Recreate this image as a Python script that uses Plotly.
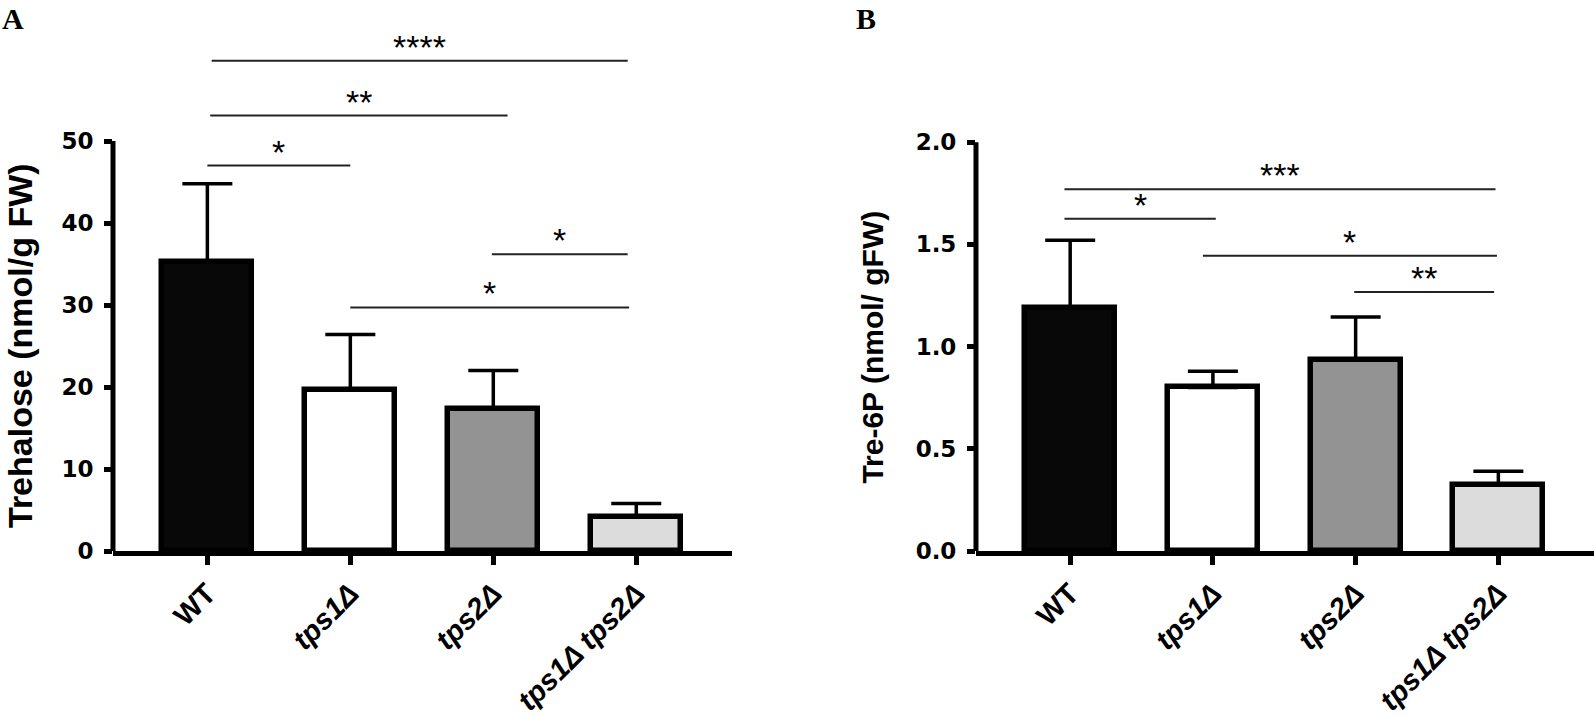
import plotly.graph_objects as go
from plotly.subplots import make_subplots

# genotypes (x categories)
genotypes = ["WT", "<i>tps1Δ</i>", "<i>tps2Δ</i>", "<i>tps1Δ tps2Δ</i>"]
bar_colors = ["#080808", "#ffffff", "#939393", "#dcdcdc"]

# panel A: trehalose
trehalose_mean = [35.3, 19.6, 17.3, 4.2]
trehalose_sem = [9.5, 6.8, 4.7, 1.6]
# significance brackets: (from, to, height, label)
trehalose_sig = [
    (0.03, 2.94, 59.8, "****"),
    (0.02, 2.10, 53.1, "**"),
    (0.00, 1.00, 47.0, "*"),
    (1.99, 2.94, 36.2, "*"),
    (1.00, 2.95, 29.7, "*"),
]

# panel B: trehalose-6-phosphate
t6p_mean = [1.19, 0.80, 0.935, 0.325]
t6p_sem = [0.33, 0.08, 0.21, 0.065]
t6p_sig = [
    (-0.04, 2.98, 1.77, "***"),
    (-0.04, 1.02, 1.625, "*"),
    (0.93, 2.99, 1.445, "*"),
    (1.99, 2.97, 1.267, "**"),
]

xpos = list(range(len(genotypes)))

fig = make_subplots(rows=1, cols=2, horizontal_spacing=0.1645)


def panel(col, means, errs, sig, ymax, ytop, dtick, title, title_size):
    xa = "x" if col == 1 else "x2"
    ya = "y" if col == 1 else "y2"
    fig.add_trace(go.Bar(
        x=xpos, y=means, width=0.63,
        marker=dict(color=bar_colors, line=dict(color="black", width=5.5)),
        error_y=dict(type="data", array=errs, arrayminus=[0] * len(errs),
                     symmetric=False, color="black", thickness=3.5, width=25),
        showlegend=False,
    ), row=1, col=col)
    for x0, x1, yv, lab in sig:
        fig.add_trace(go.Scatter(x=[x0, x1], y=[yv, yv], mode="lines",
                                 line=dict(color="#222", width=2),
                                 showlegend=False, hoverinfo="skip"),
                      row=1, col=col)
        fig.add_annotation(x=(x0 + x1) / 2, y=yv, text=lab, showarrow=False,
                           yanchor="bottom", yshift=-7,
                           font=dict(size=34, color="black", family="Liberation Sans, Arial"),
                           row=1, col=col)
    # y axis line only spans the tick range
    fig.add_shape(type="line", xref=xa + " domain", yref=ya,
                  x0=0, x1=0, y0=0, y1=ymax, line=dict(color="black", width=5))
    fig.add_annotation(xref=xa + " domain", yref=ya, xanchor="center", yanchor="middle",
                       x=0, y=ymax / 2, xshift=-93 if col == 1 else -103,
                       text=title, textangle=-90, showarrow=False,
                       font=dict(size=title_size, color="black",
                                 family="Liberation Sans, Arial", weight="bold"))
    fig.update_yaxes(range=[0, ytop], tickvals=[i * dtick for i in range(int(round(ymax / dtick)) + 1)],
                     tickformat=".1f" if dtick < 1 else "d",
                     showline=False, showgrid=False, zeroline=False,
                     ticks="outside", ticklen=8, tickwidth=5, tickcolor="black",
                     ticklabelstandoff=6,
                     tickfont=dict(family="DejaVu Sans", size=23, color="black", weight="bold"),
                     row=1, col=col)
    fig.update_xaxes(range=[-0.66, 3.67], tickvals=xpos, ticktext=genotypes,
                     tickangle=-45, showline=True, linewidth=5, linecolor="black",
                     showgrid=False, zeroline=False,
                     ticks="outside", ticklen=9, tickwidth=5, tickcolor="black",
                     tickfont=dict(family="Liberation Sans, Arial", size=29, color="black", weight="bold"),
                     row=1, col=col)


panel(1, trehalose_mean, trehalose_sem, trehalose_sig, 50, 64.76, 10,
      "Trehalose (nmol/g FW)", 34)
panel(2, t6p_mean, t6p_sem, t6p_sig, 2.0, 2.598, 0.5,
      "Tre-6P (nmol/ gFW)", 30)

fig.update_xaxes(domain=[0, 0.418], row=1, col=1)
fig.update_xaxes(domain=[0.5827, 1.0], row=1, col=2)

# panel letters
for lab, xp in [("A", 0), ("B", 854)]:
    fig.add_annotation(xref="paper", yref="paper", x=(xp - 113) / 1481, y=1 + 20 / 533,
                       xanchor="left", yanchor="top", text="<b>%s</b>" % lab,
                       showarrow=False,
                       font=dict(family="Liberation Serif, Times New Roman", size=30, color="black"))

fig.update_layout(
    width=1594, height=717,
    margin=dict(l=113, r=0, t=20, b=164),
    plot_bgcolor="white", paper_bgcolor="white",
    bargap=0,
)

fig.write_html("out.html", config={"displayModeBar": False},
               post_script="document.body.style.margin='0';")
